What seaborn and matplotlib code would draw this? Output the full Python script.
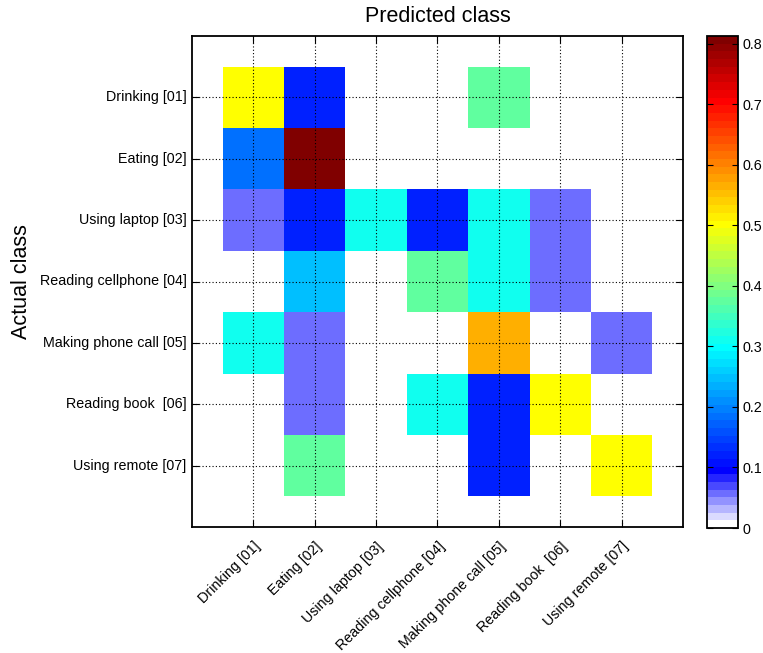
import numpy as np
import pandas as pd
import matplotlib
matplotlib.use("Agg")
import matplotlib.pyplot as plt
from matplotlib.colors import ListedColormap
import seaborn as sns

# Class names (rows = actual, columns = predicted)
classes = ["Drinking [01]", "Eating [02]", "Using laptop [03]",
           "Reading cellphone [04]", "Making phone call [05]",
           "Reading book  [06]", "Using remote [07]"]

# Normalised confusion-matrix rows (fraction of each actual class)
drinking          = [0.5,    0.125,  0.0,    0.0,    0.375,  0.0,    0.0]
eating            = [0.1875, 0.8125, 0.0,    0.0,    0.0,    0.0,    0.0]
using_laptop      = [0.0625, 0.125,  0.3125, 0.125,  0.3125, 0.0625, 0.0]
reading_cellphone = [0.0,    0.25,   0.0,    0.375,  0.3125, 0.0625, 0.0]
making_phone_call = [0.3125, 0.0625, 0.0,    0.0,    0.5625, 0.0,    0.0625]
reading_book      = [0.0,    0.0625, 0.0,    0.3125, 0.125,  0.5,    0.0]
using_remote      = [0.0,    0.375,  0.0,    0.0,    0.125,  0.0,    0.5]

cbar_ticks = [0, 0.1, 0.2, 0.3, 0.4, 0.5, 0.6, 0.7, 0.8]

df = pd.DataFrame([drinking, eating, using_laptop, reading_cellphone,
                   making_phone_call, reading_book, using_remote],
                  index=classes, columns=classes)


def classic_jet(m):
    """64-level jet colour table (classic definition)."""
    n = int(np.ceil(m / 4))
    u = np.concatenate([np.arange(1, n + 1) / n, np.ones(n - 1),
                        np.arange(n, 0, -1) / n])
    g0 = int(np.ceil(n / 2)) - (1 if m % 4 == 1 else 0)
    g = g0 + np.arange(1, len(u) + 1)
    r = g + n
    b = g - n
    J = np.zeros((m, 3))
    J[r[r <= m] - 1, 0] = u[r <= m]
    J[g[g <= m] - 1, 1] = u[g <= m]
    J[b[b >= 1] - 1, 2] = u[b >= 1]
    return J


table = classic_jet(64)
# fade the lowest entries from white into blue so empty cells stay white
fade = np.linspace(1, 0, 8)
table[:8, 0] = fade
table[:8, 1] = fade
table[:8, 2] = 1.0
cmap = ListedColormap(table)

plt.rcParams['font.family'] = ['Liberation Sans', 'DejaVu Sans']

fig = plt.figure(figsize=(7.63, 6.53), dpi=100)
ax = fig.add_axes([192 / 763, 1 - 527 / 653, 491 / 763, 491 / 653])
cax = fig.add_axes([707 / 763, 1 - 528 / 653, 31 / 763, 492 / 653])

vmax = df.values.max()
sns.heatmap(df, ax=ax, cbar_ax=cax, cmap=cmap, vmin=0, vmax=vmax,
            linewidths=0, cbar_kws={'ticks': cbar_ticks})

ax.set_xlim(-0.5, len(classes) + 0.5)
ax.set_ylim(len(classes) + 0.5, -0.5)
ax.set_xticks(np.arange(len(classes)) + 0.5)
ax.set_yticks(np.arange(len(classes)) + 0.5)
ax.set_xticklabels(classes, rotation=45, ha='right', rotation_mode='anchor',
                   fontsize=10.3)
ax.set_yticklabels(classes, rotation=0, fontsize=10.3)
ax.tick_params(axis='both', direction='in', length=5, width=0.8,
               top=True, right=True, bottom=True, left=True,
               labeltop=False, labelright=False, pad=4)
ax.tick_params(axis='x', pad=9)

ax.set_axisbelow(False)
ax.grid(True, color='black', linestyle=(0, (1, 2)), linewidth=0.8)

for s in ax.spines.values():
    s.set_visible(True)
    s.set_linewidth(1.3)
    s.set_color('black')

ax.set_title("Predicted class", fontsize=15.5, pad=10)
ax.set_ylabel("Actual class", fontsize=15.5)
ax.yaxis.label.set_va('center')
ax.yaxis.label.set_ha('center')
ax.yaxis.set_label_coords((21 - 192) / 491, 0.5)
ax.set_xlabel("")

cb = ax.collections[0].colorbar
cb.outline.set_linewidth(1.3)
cb.outline.set_edgecolor('black')
cb.set_ticks(cbar_ticks)
cb.set_ticklabels([f"{t:g}" for t in cbar_ticks])
cax.tick_params(direction='in', length=4, width=0.8, left=True, right=True,
                labelsize=10.3, pad=3)

fig.savefig("out.png", dpi=100)
